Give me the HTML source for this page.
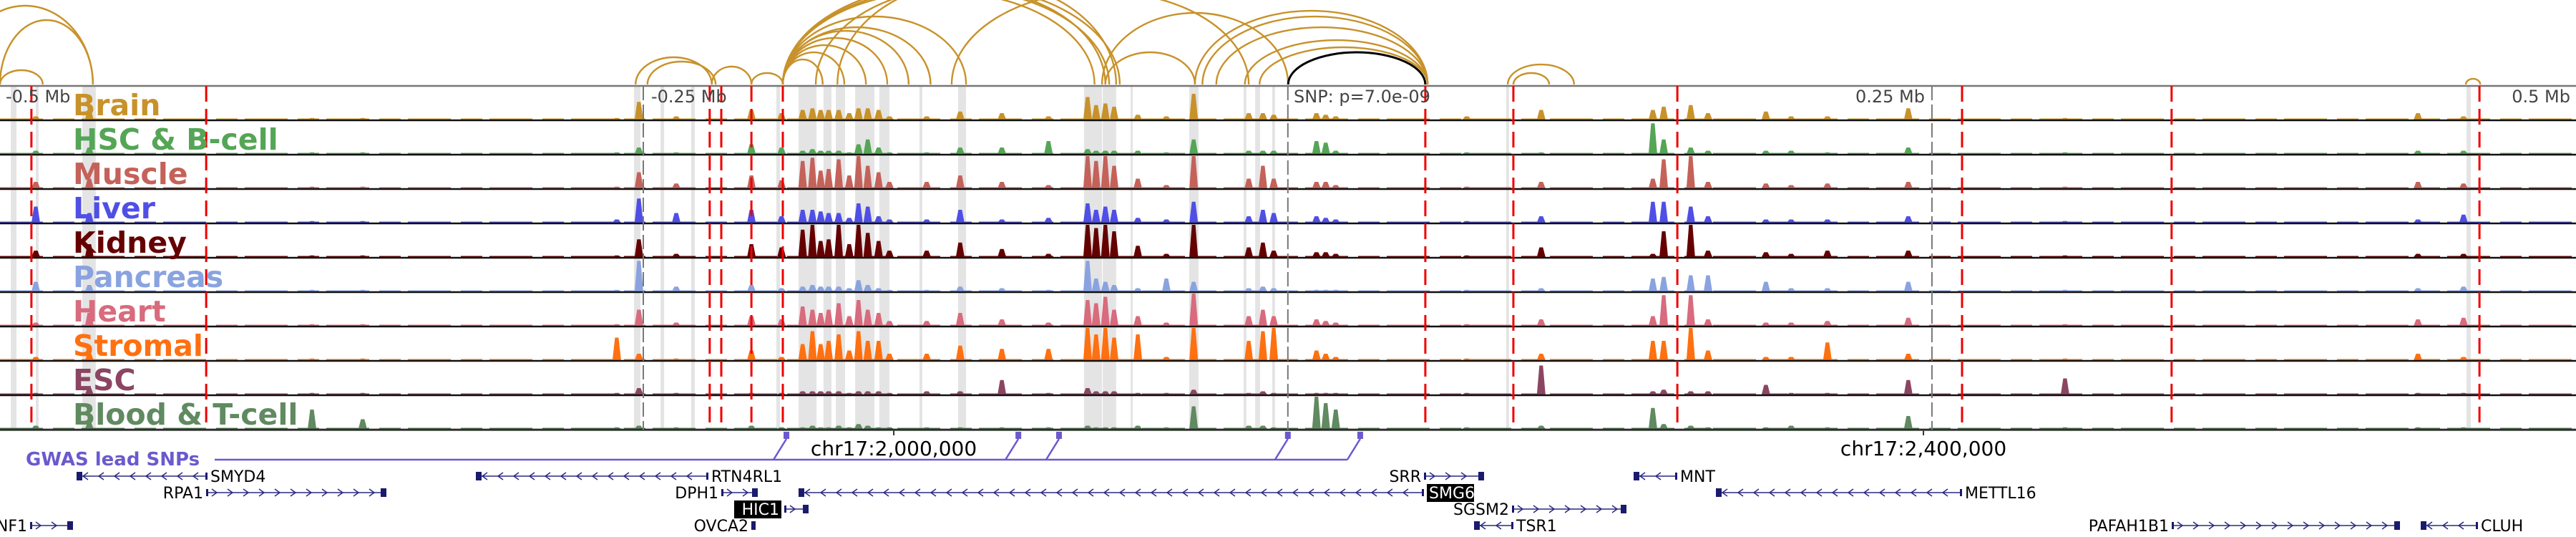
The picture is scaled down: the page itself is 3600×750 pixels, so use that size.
<!DOCTYPE html>
<html><head><meta charset="utf-8">
<style>
html,body{margin:0;padding:0;background:#fff;}
svg{display:block;}
text{font-family:"DejaVu Sans","Liberation Sans",sans-serif;}
</style></head>
<body>
<svg id="chart" width="3600" height="750" viewBox="0 0 3600 750" xmlns="http://www.w3.org/2000/svg">
  <g id="bands"></g>
  <g id="arcs"></g>
  <g id="tracks"></g>
  <g id="vlines"></g>
  <g id="labels"></g>
  <g id="gwas"></g>
  <g id="genes"></g>
</svg>
<script>
// ---------- data ----------
const domainKb = [1652.8, 2653.5];
const trackNames = ["Brain","HSC & B-cell","Muscle","Liver","Kidney","Pancreas","Heart","Stromal","ESC","Blood & T-cell"];
const trackColors = ["#c8922a","#55a556","#c4625a","#4f4fe6","#650000","#8aa3e0","#d86b7d","#ff7010","#8b4562","#608a60"];
const peakPositionsKb = [1666.7,1687.5,1774.0,1793.7,1892.4,1901.0,1915.5,1944.7,1956.4,1964.6,1968.4,1971.6,1974.7,1978.6,1982.7,1986.3,1989.9,1994.1,1998.3,2012.8,2025.8,2042.0,2060.1,2075.3,2078.6,2082.2,2085.6,2094.8,2105.9,2116.5,2137.9,2143.4,2147.6,2164.2,2167.8,2171.7,2251.5,2294.9,2299.1,2309.6,2316.3,2338.8,2362.7,2394.1,2455.0,2592.1,2609.8,2222.6,2348.6];
// heights per peak, columns in trackNames order
const peakHeights = [
[.1,.1,.2,.5,.2,.3,.1,.1,.05,.1],
[.3,.2,.3,.3,.4,.2,.4,.2,.2,.2],
[.05,.05,.05,.05,.05,.05,.05,.05,.05,.6],
[.05,.05,.05,.05,.05,.05,.05,.05,.05,.3],
[.05,.05,.05,.1,.05,.05,.05,.7,.05,.05],
[.55,.2,.5,.75,.55,.95,.5,.2,.2,.1],
[.1,.05,.15,.3,.1,.15,.1,.05,.05,.05],
[.3,.3,.4,.4,.4,.2,.3,.3,.05,.1],
[.2,.2,.25,.2,.3,.1,.2,.1,.05,.05],
[.3,.1,.85,.4,.85,.15,.6,.5,.1,.05],
[.35,.15,.95,.4,1,.2,.5,.9,.1,.1],
[.3,.1,.55,.35,.5,.15,.4,.5,.1,.05],
[.3,.1,.6,.3,.55,.15,.5,.6,.1,.05],
[.3,.1,.9,.3,1,.15,.7,.8,.1,.1],
[.2,.05,.4,.15,.4,.1,.3,.3,.05,.05],
[.35,.3,1,.6,1,.35,.8,.9,.1,.15],
[.35,.45,.7,.5,.75,.2,.5,.6,.1,.1],
[.3,.2,.5,.2,.5,.1,.4,.6,.1,.05],
[.1,.05,.2,.1,.2,.05,.15,.2,.05,.05],
[.1,.05,.2,.1,.2,.05,.15,.2,.1,.05],
[.25,.2,.4,.4,.45,.15,.4,.45,.1,.05],
[.2,.2,.2,.1,.25,.1,.2,.35,.45,.05],
[.1,.4,.1,.15,.1,.05,.1,.35,.05,.05],
[.7,.15,1,.6,1,.95,.8,1,.2,.1],
[.45,.1,.85,.4,.9,.4,.7,.8,.1,.05],
[.5,.1,1,.5,1,.3,.9,1,.1,.05],
[.4,.1,.7,.4,.8,.2,.5,.7,.1,.05],
[.15,.1,.3,.15,.35,.1,.3,.8,.05,.1],
[.1,.05,.1,.1,.1,.4,.1,.1,.05,.05],
[.8,.45,1,.65,1,.3,1,1,.15,.7],
[.2,.1,.3,.2,.3,.1,.3,.6,.05,.1],
[.2,.1,.7,.4,.45,.15,.5,.9,.1,.1],
[.15,.1,.3,.3,.2,.1,.3,1,.05,.05],
[.2,.4,.2,.2,.15,.05,.2,.3,.05,1],
[.15,.35,.2,.15,.15,.05,.15,.2,.05,.8],
[.1,.1,.1,.1,.1,.05,.1,.1,.05,.6],
[.3,.05,.2,.2,.3,.1,.2,.2,.9,.1],
[.3,.95,.3,.65,.1,.4,.3,.6,.1,.65],
[.4,.45,.9,.65,.8,.45,.95,.6,.15,.15],
[.45,.2,1,.5,1,.5,.95,1,.1,.1],
[.2,.1,.2,.2,.2,.5,.2,.3,.1,.05],
[.25,.1,.15,.1,.15,.3,.1,.1,.3,.05],
[.1,.05,.15,.1,.2,.1,.15,.55,.05,.05],
[.35,.2,.2,.2,.2,.3,.25,.2,.45,.4],
[.05,.05,.05,.05,.05,.05,.05,.05,.5,.05],
[.2,.1,.2,.1,.1,.1,.2,.2,.05,.05],
[.1,.1,.15,.25,.1,.15,.25,.1,.05,.05],
[.1,.05,.05,.05,.05,.05,.05,.05,.05,.05],
[.1,.1,.1,.1,.1,.1,.1,.1,.05,.1]
];
const arcStartKb = [1652.8,1652.8,1636.2,1899.7,1904.3,1929.3,1944.7,1956.9,1956.9,1956.9,1956.9,1956.9,1956.9,1956.9,1956.9,1956.9,1956.9,1969.7,1978.1,2022.5,2080.9,2082.2,2117.0,2119.9,2125.3,2136.4,2142.1,2238.5,2240.7,2610.7];
const arcEndKb   = [1669.4,1688.9,1688.9,1929.3,1930.8,1944.7,1956.9,1972.4,1980.8,1989.2,1997.5,2005.8,2014.3,2028.1,2078.0,2083.7,2087.8,2082.2,2086.4,2137.9,2153.2,2117.0,2207.4,2207.4,2207.4,2207.4,2207.4,2264.3,2254.6,2616.3];
const arcScore   = [20,90,110,38,32,25,16,35,45,55,65,75,80,95,130,135,140,135,145,130,100,45,103,95,80,62,52,28,16,8];
const leadArc = [2153.2, 2206.5, 45];
const gwasSnpKb = [1958.3, 2048.4, 2064.2, 2153.1, 2181.2];
const redLinesKb = [1665.0,1732.9,1928.5,1933.0,1944.7,1956.9,2206.5,2240.7,2304.4,2415.0,2496.4,2616.0];
const bandRangesKb = [[1657.0,1659.2],[1666.7,1667.8],[1684.8,1690.0],[1899.1,1901.6],[1909.4,1910.8],[1921.3,1922.7],[1954.4,1955.8],[1963.0,1970.0],[1972.7,1975.8],[1977.5,1981.1],[1985.0,1992.5],[1994.4,1998.3],[2010.0,2011.1],[2025.0,2028.1],[2073.9,2080.9],[2081.2,2086.4],[2092.0,2092.8],[2114.8,2118.4],[2135.9,2137.0],[2140.4,2142.3],[2147.0,2148.1],[2237.9,2239.0],[2611.0,2612.6]];
const greyDashKb = [1902.7, 2153.1, 2403.3];
const axisTickLabels = ["chr17:2,000,000","chr17:2,400,000"];
const axisTickKb = [2000, 2400];

// ---------- scales ----------
const W = 3600, T0 = 120, TH = 48;
const xs = kb => (kb - domainKb[0]) / (domainKb[1] - domainKb[0]) * W;
const NS = "http://www.w3.org/2000/svg";
function mk(tag, attrs, parent){ const e=document.createElementNS(NS,tag); for(const k in attrs) e.setAttribute(k,attrs[k]); parent.appendChild(e); return e; }
const $ = id => document.getElementById(id);

// bands
bandRangesKb.forEach(r=>{
  const e = mk('rect',{x:xs(r[0]),y:T0,width:Math.max(3,xs(r[1])-xs(r[0])),height:TH*10,fill:'#e4e4e4'},$('bands'));
  
  
});

// arcs
for(let i=0;i<arcStartKb.length;i++){
  const x1=xs(arcStartKb[i]), x2=xs(arcEndKb[i]), h=arcScore[i];
  const e = mk('path',{d:`M${x1},${T0-2} A${(x2-x1)/2},${h} 0 0 1 ${x2},${T0-2}`,fill:'none',stroke:'#c8922a','stroke-width':2.4},$('arcs'));
  
  
}
{
  const x1=xs(leadArc[0]), x2=xs(leadArc[1]);
  const e = mk('path',{d:`M${x1},${T0-2} A${(x2-x1)/2},${leadArc[2]} 0 0 1 ${x2},${T0-2}`,fill:'none',stroke:'#000','stroke-width':3},$('arcs'));
  
  
}

// tracks
for(let t=0;t<10;t++){
  const g = mk('g',{},$('tracks'));
  
  
  const base = T0 + TH*(t+1) - 1;
  mk('line',{x1:0,x2:W,y1:base-0.5,y2:base-0.5,stroke:trackColors[t],'stroke-width':2,'stroke-dasharray':'60 14 30 10'},g);
  for(let p=0;p<peakPositionsKb.length;p++){
    const x = xs(peakPositionsKb[p]), H = peakHeights[p][t]*(TH-3);
    const e = mk('path',{d:`M${x-6},${base} L${x-2.5},${base-H} L${x+2.5},${base-H} L${x+6},${base} Z`,fill:trackColors[t]},g);
    
    
  }
  mk('line',{x1:0,x2:W,y1:T0+TH*(t+1),y2:T0+TH*(t+1),stroke:'#111','stroke-width':2.5},g);
}
mk('line',{x1:0,x2:W,y1:T0,y2:T0,stroke:'#777','stroke-width':2.5},$('tracks'));

// vertical lines
greyDashKb.forEach(k=>{
  const e = mk('line',{x1:xs(k),x2:xs(k),y1:T0,y2:T0+TH*10,stroke:'#777','stroke-width':2,'stroke-dasharray':'20 6'},$('vlines'));
  
  
});
redLinesKb.forEach(k=>{
  const e = mk('line',{x1:xs(k),x2:xs(k),y1:T0,y2:T0+TH*10,stroke:'#ee0000','stroke-width':3,'stroke-dasharray':'22 10'},$('vlines'));
  
  
});

// distance labels
[["-0.5 Mb",8,'start'],["-0.25 Mb",910,'start'],["SNP: p=7.0e-09",1808,'start'],["0.25 Mb",2690,'end'],["0.5 Mb",3592,'end']].forEach(d=>{
  const e = mk('text',{x:d[1],y:143,'font-size':24,fill:'#444','text-anchor':d[2]},$('labels'));
  e.textContent=d[0];
  
  
});
trackNames.forEach((n,t)=>{
  const e = mk('text',{x:102,y:T0+TH*t+41,'font-size':41,'font-weight':'bold',fill:trackColors[t]},$('labels'));
  e.textContent=n;
  
  
});

// GWAS track
{
  const g=$('gwas');
  const lab = mk('text',{x:36,y:650,'font-size':26,'font-weight':'bold',fill:'#6a5acd'},g);
  lab.textContent='GWAS lead SNPs';
  
  
  const xsSnp = gwasSnpKb.map(xs);
  mk('line',{x1:300,x2:xsSnp[xsSnp.length-1]-18,y1:642,y2:642,stroke:'#6a5acd','stroke-width':2.5},g);
  xsSnp.forEach(x=>{
    const m = mk('rect',{x:x-4,y:603,width:8,height:10,fill:'#6a5acd'},g);
    
    
    mk('line',{x1:x,x2:x-18,y1:613,y2:642,stroke:'#6a5acd','stroke-width':2.5},g);
  });
  mk('line',{x1:0,x2:W,y1:T0+TH*10+1,y2:T0+TH*10+1,stroke:'#555','stroke-width':2},g);
  axisTickKb.forEach((k,i)=>{
    mk('line',{x1:xs(k),x2:xs(k),y1:601,y2:608,stroke:'#333','stroke-width':2},g);
    const e = mk('text',{x:xs(k),y:636,'font-size':28,'text-anchor':'middle',fill:'#000'},g);
    e.textContent=axisTickLabels[i];
    
    
  });
}

// genes: [name, x1, x2, row, strand, labelSide, boxed]
const genes = [
 ["SMYD4",107,290,0,-1,'r',0],["RTN4RL1",665,990,0,-1,'r',0],["SRR",1990,2072,0,1,'l',0],["MNT",2283,2344,0,-1,'r',0],
 ["RPA1",288,538,1,1,'l',0],["DPH1",1008,1057,1,1,'l',0],["SMG6",1116,1990,1,-1,'r',1],["METTL16",2398,2742,1,-1,'r',0],
 ["HIC1",1096,1128,2,1,'l',1],["SGSM2",2113,2271,2,1,'l',0],
 ["NF1",42,100,3,1,'l',0],["OVCA2",1050,1056,3,1,'l',0],["TSR1",2060,2115,3,-1,'r',0],["PAFAH1B1",3035,3352,3,1,'l',0],["CLUH",3383,3463,3,-1,'r',0]
];
const rowY=[665,688,711,734];
genes.forEach(gd=>{
  const [n,x1,x2,row,str,side,boxed]=gd, y=rowY[row];
  const g = mk('g',{},$('genes'));
  
  
  mk('line',{x1:x1,x2:x2,y1:y,y2:y,stroke:'#2a2a80','stroke-width':1.5},g);
  for(let x=x1+12;x<x2-6;x+=22){
    const d = str>0?`M${x-4},${y-5} L${x+3},${y} L${x-4},${y+5}`:`M${x+4},${y-5} L${x-3},${y} L${x+4},${y+5}`;
    mk('path',{d:d,fill:'none',stroke:'#2a2a80','stroke-width':1.5},g);
  }
  mk('rect',{x:str>0?x2-6:x1,y:y-6,width:Math.min(8,x2-x1),height:12,fill:'#1a1a6e'},g);
  mk('rect',{x:str>0?x1:x2-3,y:y-5,width:3,height:10,fill:'#1a1a6e'},g);
  const tx = side==='r'? x2+4 : x1-4;
  if(boxed){
    const w = n.length*15+6;
    mk('rect',{x:side==='r'?tx:tx-w,y:y-12,width:w,height:25,fill:'#000'},g);
  }
  const t = mk('text',{x:side==='r'?tx+(boxed?3:0):tx-(boxed?3:0),y:y+8,'font-size':22,'text-anchor':side==='r'?'start':'end',fill:boxed?'#fff':'#000'},g);
  t.textContent=n;
});
</script>
</body></html>
